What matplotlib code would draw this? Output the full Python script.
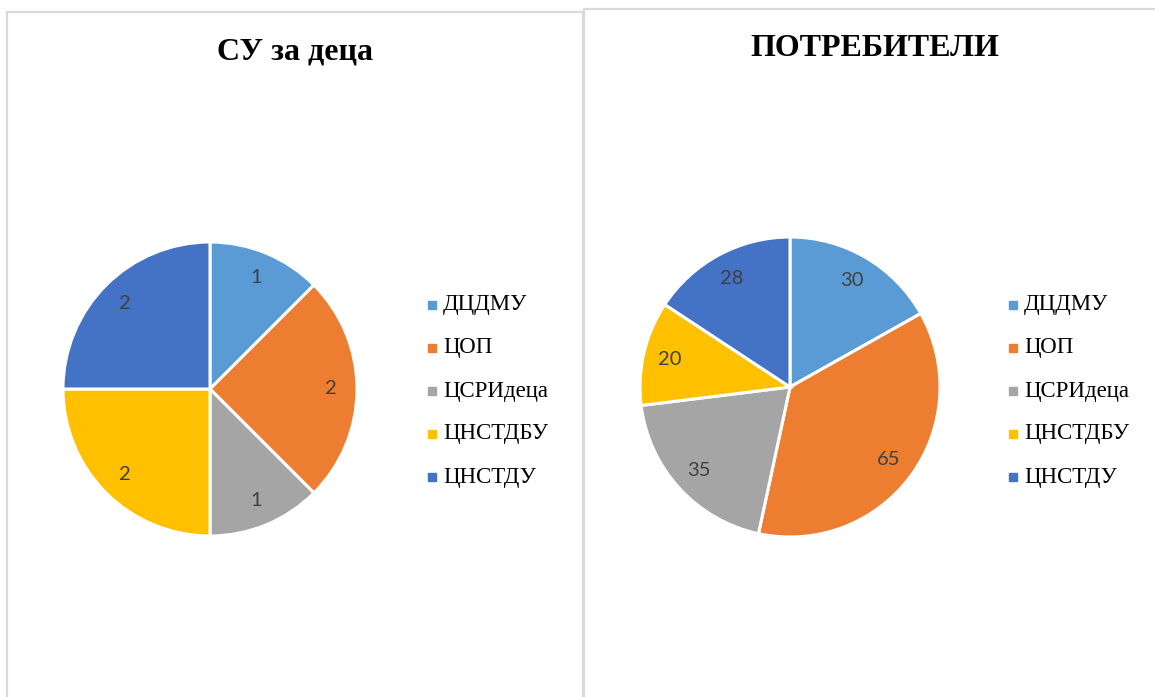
import matplotlib
matplotlib.use("Agg")
import matplotlib.pyplot as plt
from matplotlib.patches import Rectangle
from matplotlib.lines import Line2D

# Data
categories = ["ДЦДМУ", "ЦОП", "ЦСРИдеца", "ЦНСТДБУ", "ЦНСТДУ"]
su_children = [1, 2, 1, 2, 2]
users = [30, 65, 35, 20, 28]
titles = ["СУ за деца", "ПОТРЕБИТЕЛИ"]
colors = ["#5B9BD5", "#ED7D31", "#A5A5A5", "#FFC000", "#4472C4"]

W, H = 1155, 697
fig = plt.figure(figsize=(W / 100, H / 100), dpi=100)
fig.patch.set_facecolor("white")


def fx(px):
    return px / W


def fy(py):
    return 1 - py / H


# Panel frames (light grey borders)
border = "#D9D9D9"
for x0, y0, x1, y1 in [(7, 12, 583, 720), (584, 9, 1160, 720)]:
    fig.add_artist(Rectangle((fx(x0), fy(y1)), fx(x1) - fx(x0), fy(y0) - fy(y1),
                             transform=fig.transFigure, fill=False,
                             edgecolor=border, linewidth=1.6))

panels = [
    dict(values=su_children, cx=210, cy=389, r=147, title_x=295, title_y=52,
         leg_x=425, leg_y=305),
    dict(values=users, cx=790, cy=387, r=150, title_x=875, title_y=48,
         leg_x=1006, leg_y=305),
]

for p, title in zip(panels, titles):
    cx, cy, r = p["cx"], p["cy"], p["r"]
    ax = fig.add_axes([fx(cx - r), fy(cy + r), fx(2 * r), fy(cy - r) - fy(cy + r)])
    vals = p["values"]
    wedges, _, autotexts = ax.pie(
        vals, colors=colors, startangle=90, counterclock=False,
        autopct=lambda pct, v=vals: f"{round(pct * sum(v) / 100):d}",
        pctdistance=0.82, radius=1.0,
        wedgeprops=dict(edgecolor="white", linewidth=2.2),
        textprops=dict(color="#404040", fontsize=14.5, family="Lato"),
    )
    ax.set_xlim(-1, 1)
    ax.set_ylim(-1, 1)
    ax.set_aspect("equal")
    ax.axis("off")
    for w in wedges:
        w.set_clip_on(False)

    fig.text(fx(p["title_x"]), fy(p["title_y"]), title, ha="center", va="center",
             fontsize=23, fontweight="bold", family="Liberation Serif", color="black")

    # Legend
    for i, (lab, c) in enumerate(zip(categories, colors)):
        yy = p["leg_y"] + i * 43
        fig.add_artist(Line2D([fx(p["leg_x"] + 7)], [fy(yy)], marker="s", markersize=6,
                              color=c, linestyle="", transform=fig.transFigure))
        fig.text(fx(p["leg_x"] + 18), fy(yy), lab, ha="left", va="center",
                 fontsize=16.5, family="Liberation Serif", color="black")

fig.savefig("out.png", dpi=100, facecolor="white")
